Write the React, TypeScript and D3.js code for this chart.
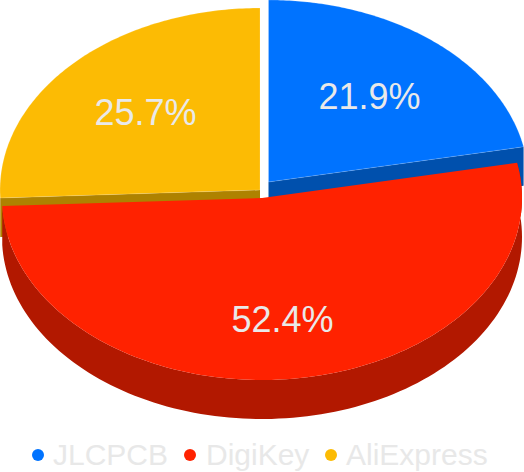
import React from "react";
import * as d3 from "d3";

const categories = ["JLCPCB", "DigiKey", "AliExpress"];
const shares = [21.9, 52.4, 25.7];
const topColors = ["#0073ff", "#ff2200", "#fcbb04"];
const wallColors = ["#0050ad", "#b21800", "#ae8200"];

const W = 524, H = 472;
const RX = 260, RY = 182, DEPTH = 39;
const centers: [number, number][] = [[268.5, 182], [262, 198], [260, 190]];
const labelPos: [number, number][] = [[369.5, 109], [282.5, 332], [145.5, 125]];
const legendDotX = [38, 190, 331];
const legendTextX = [53, 206, 346];
const FONT = "'Liberation Sans', Arial, sans-serif";

const slices = d3.pie<number>().sort(null)(shares);

const ellipsePoint = (c: [number, number], t: number, dy = 0): [number, number] => [
  c[0] + RX * Math.sin(t),
  c[1] - RY * Math.cos(t) + dy,
];

const arcPoints = (c: [number, number], a0: number, a1: number, dy = 0) =>
  d3.range(0, 121).map((i) => ellipsePoint(c, a0 + ((a1 - a0) * i) / 120, dy));

const line = d3.line();

const topPath = (c: [number, number], a0: number, a1: number) =>
  line([c, ...arcPoints(c, a0, a1)]) + "Z";

const outerWall = (c: [number, number], a0: number, a1: number) =>
  line([...arcPoints(c, a0, a1), ...arcPoints(c, a0, a1, DEPTH).reverse()]) + "Z";

const cutWall = (c: [number, number], t: number) => {
  const p = ellipsePoint(c, t);
  return line([c, p, [p[0], p[1] + DEPTH], [c[0], c[1] + DEPTH]]) + "Z";
};

export default function App() {
  const [blue, red, yellow] = slices;
  return (
    <svg
      width={W}
      height={H}
      viewBox={`0 0 ${W} ${H}`}
      style={{ position: "absolute", left: 0, top: 0, background: "#fff" }}
    >
      <path d={cutWall(centers[0], blue.endAngle)} fill={wallColors[0]} />
      <path d={cutWall(centers[2], yellow.startAngle)} fill={wallColors[2]} />
      <path d={topPath(centers[0], blue.startAngle, blue.endAngle)} fill={topColors[0]} stroke="#fff" strokeOpacity={0.25} strokeWidth={0.7} />
      <path d={topPath(centers[2], yellow.startAngle, yellow.endAngle)} fill={topColors[2]} stroke="#fff" strokeOpacity={0.25} strokeWidth={0.7} />
      <path d={outerWall(centers[1], red.startAngle, red.endAngle)} fill={wallColors[1]} />
      <path d={topPath(centers[1], red.startAngle, red.endAngle)} fill={topColors[1]} />
      {slices.map((s, i) => (
        <text
          key={categories[i]}
          x={labelPos[i][0]}
          y={labelPos[i][1]}
          textAnchor="middle"
          fontFamily={FONT}
          fontSize={36}
          fill="#e9e9e9"
        >
          {`${d3.format(".1f")(s.data)}%`}
        </text>
      ))}
      {categories.map((name, i) => (
        <g key={name}>
          <circle cx={legendDotX[i]} cy={455} r={6} fill={topColors[i]} />
          <text x={legendTextX[i]} y={465} fontFamily={FONT} fontSize={30} fill="#e8e8e8">
            {name}
          </text>
        </g>
      ))}
    </svg>
  );
}
